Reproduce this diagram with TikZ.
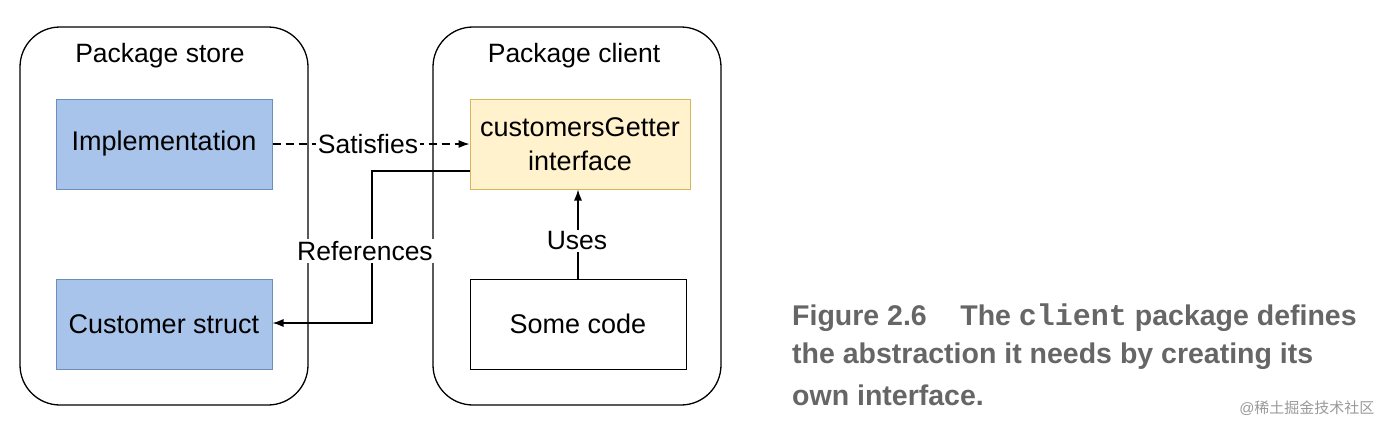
\documentclass[tikz,border=0pt]{standalone}
\usepackage{fontspec}
\setmainfont{Liberation Sans}
\setmonofont{Liberation Mono}
\newfontfamily\cjk{Noto Sans CJK SC}
\usetikzlibrary{arrows.meta}
\definecolor{bluef}{HTML}{A9C4EB}
\definecolor{blued}{HTML}{6C8EBF}
\definecolor{yelf}{HTML}{FFF2CC}
\definecolor{yeld}{HTML}{D6B656}
\definecolor{capc}{HTML}{666666}
\begin{document}
\begin{tikzpicture}[x=1pt,y=-1pt,
  pkg/.style={draw,line width=1.3pt,rounded corners=40pt},
  blk/.style={draw,line width=1pt,minimum width=216pt,minimum height=90pt,font=\fontsize{27}{30}\selectfont,inner sep=0pt,align=center},
  lbl/.style={font=\fontsize{26.5}{30}\selectfont},
  conn/.style={line width=1.2pt,-{Latex[length=11pt,width=8pt]}},
  capt/.style={font=\fontsize{28.5}{38}\selectfont\bfseries,text=capc,anchor=west,inner sep=0pt}]
\useasboundingbox (0,0) rectangle (1382,424);
\draw[pkg] (20,27) rectangle (308,405);
\draw[pkg] (433,27) rectangle (721,405);
\node[lbl] (ps) at (160,56) {Package store};
\node[lbl] (pc) at (574,56) {Package client};
\node[blk,fill=bluef,draw=blued] (impl) at (164,144) {Implementation};
\node[blk,fill=bluef,draw=blued] (cust) at (164,324) {Customer struct};
\node[blk,fill=yelf,draw=yeld,minimum width=220pt,font=\fontsize{27}{34}\selectfont] (cg) at (580,144) {customersGetter\\interface};
\node[blk,fill=white] (some) at (578,324) {Some code};
\coordinate (r1) at (372,171);
\coordinate (r2) at (372,323);
\draw[conn,dashed,dash pattern=on 8pt off 5pt] (impl.east) -- (cg.west);
\node[lbl,fill=white,inner sep=2pt] (sat) at (368,144) {Satisfies};
\draw[conn] (cg.west |- r1) -- (r1) -- (r2) -- (cust.east |- r2);
\node[lbl,fill=white,inner sep=2pt] (ref) at (365,251) {References};
\draw[conn] (some.north) -- (cg.south -| some.north);
\node[lbl,fill=white,inner sep=2pt] (uses) at (577,241) {Uses};
\node[capt] (c1) at (792,318) {Figure 2.6\hspace{0.9em} The {\ttfamily\fontsize{30}{32}\selectfont client} package defines};
\node[capt] (c2) at (792,356) {the abstraction it needs by creating its};
\node[capt] (c3) at (792,395) {own interface.};
\node[font=\fontsize{15}{18}\selectfont,text=gray!80,anchor=east] (wm) at (1378,408) {@{\cjk 稀土掘金技术社区}};
\end{tikzpicture}
\end{document}
